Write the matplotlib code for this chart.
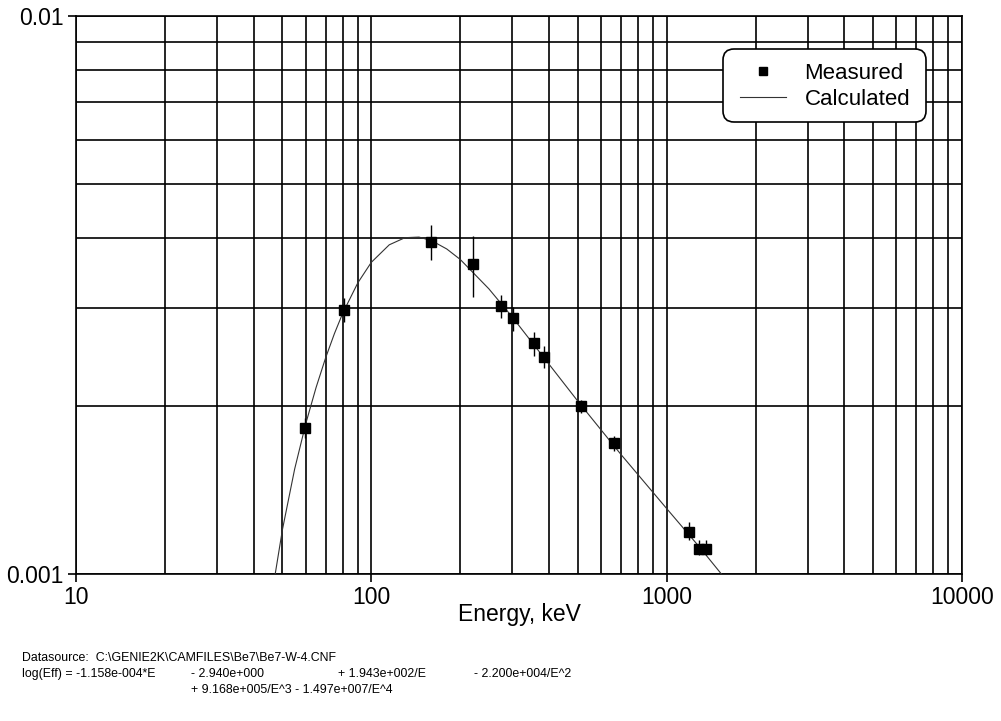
import matplotlib
matplotlib.use("Agg")
import matplotlib.pyplot as plt
from matplotlib.ticker import FixedLocator, FixedFormatter, LogLocator, NullFormatter
from matplotlib.patches import FancyBboxPatch
from matplotlib.transforms import IdentityTransform
import numpy as np

plt.rcParams['font.family'] = ['Liberation Sans', 'DejaVu Sans']

# measured points (keV, efficiency) with error bar limits
energy_meas = [59.5, 80.5, 159, 221, 275, 301, 356, 384, 511, 662, 1190, 1290, 1355]
eff_meas = [0.00183, 0.00297, 0.00394, 0.00360, 0.00302, 0.00288, 0.00259,
            0.00245, 0.00200, 0.00172, 0.00119, 0.00111, 0.00111]
eff_lo = [0.00175, 0.00283, 0.00365, 0.00314, 0.00288, 0.00273, 0.00246,
          0.00234, 0.00194, 0.00166, 0.00115, 0.00108, 0.00108]
eff_hi = [0.00190, 0.00312, 0.00423, 0.00403, 0.00316, 0.00301, 0.00271,
          0.00256, 0.00205, 0.00177, 0.00124, 0.00115, 0.00115]

# calculated curve, values
energy_calc = [47, 50, 55, 60, 65, 70, 75, 80, 90, 100, 115, 130, 145, 160,
               180, 200, 250, 300, 400, 500, 700, 1000, 1300, 1600]
eff_calc = [0.000982, 0.001201, 0.001542, 0.001861, 0.002159, 0.002439,
            0.002697, 0.002933, 0.003325, 0.003619, 0.003890, 0.004006,
            0.004016, 0.003957, 0.003824, 0.003662, 0.003244, 0.002888,
            0.002375, 0.002041, 0.001638, 0.001310, 0.001113, 0.000972]

x_ticks = [10, 100, 1000, 10000]
x_labels = ['10', '100', '1000', '10000']
y_ticks = [0.001, 0.01]
y_labels = ['0.001', '0.01']

footnote = [
    (22, 'Datasource:  C:\\GENIE2K\\CAMFILES\\Be7\\Be7-W-4.CNF', 0),
    (22, 'log(Eff) = -1.158e-004*E', 1),
    (191, '- 2.940e+000', 1),
    (338, '+ 1.943e+002/E', 1),
    (474, '- 2.200e+004/E^2', 1),
    (191, '+ 9.168e+005/E^3 - 1.497e+007/E^4', 2),
]

W, H = 1001, 721
fig = plt.figure(figsize=(W / 100, H / 100), dpi=100)
ax = fig.add_axes([76 / W, 1 - 574 / H, 886 / W, 558 / H])
ax.set_xscale('log')
ax.set_yscale('log')
ax.set_xlim(10, 10000)
ax.set_ylim(0.001, 0.01)

# grid on every decade subdivision
ax.xaxis.set_major_locator(FixedLocator(x_ticks))
ax.xaxis.set_major_formatter(FixedFormatter(x_labels))
ax.yaxis.set_major_locator(FixedLocator(y_ticks))
ax.yaxis.set_major_formatter(FixedFormatter(y_labels))
ax.xaxis.set_minor_locator(LogLocator(base=10, subs=np.arange(2, 10)))
ax.yaxis.set_minor_locator(LogLocator(base=10, subs=np.arange(2, 10)))
ax.xaxis.set_minor_formatter(NullFormatter())
ax.yaxis.set_minor_formatter(NullFormatter())
ax.grid(True, which='both', color='black', linewidth=1.2)
ax.tick_params(which='major', direction='out', length=6, width=1.2, labelsize=16.5, pad=3)
ax.tick_params(which='minor', length=0)
for s in ax.spines.values():
    s.set_linewidth(1.2)

ax.plot(energy_calc, eff_calc, color='#333333', linewidth=0.8, label='Calculated', zorder=3)
yerr = [np.array(eff_meas) - np.array(eff_lo), np.array(eff_hi) - np.array(eff_meas)]
ax.errorbar(energy_meas, eff_meas, yerr=yerr, fmt='none', ecolor='black', elinewidth=1.0,
            capsize=0, zorder=4)
ax.plot(energy_meas, eff_meas, 's', color='black', markersize=7, linestyle='none',
        label='Measured', zorder=5)

# rounded legend frame drawn in pixel space
box = FancyBboxPatch((723, H - 122), 203, 73, boxstyle='round,pad=0,rounding_size=11',
                     transform=IdentityTransform(), facecolor='white', edgecolor='black',
                     linewidth=1.2, zorder=6)
ax.add_artist(box)

handles, labels = ax.get_legend_handles_labels()
leg = ax.legend(handles[::-1], labels[::-1], loc='center left',
                bbox_to_anchor=((740 - 76) / 886, (574 - 86.5) / 558),
                fontsize=16, frameon=False, borderpad=0, borderaxespad=0,
                handlelength=2.05, handletextpad=0.85, labelspacing=0.22,
                markerscale=0.75)
leg.set_zorder(7)

ax.set_xlabel('Energy, keV', fontsize=16.5, labelpad=-5)

rows = [658, 674, 690]
for x, txt, r in footnote:
    fig.text(x / W, 1 - rows[r] / H, txt, fontsize=8.9, va='center', ha='left')

fig.savefig('out.png', dpi=100)
